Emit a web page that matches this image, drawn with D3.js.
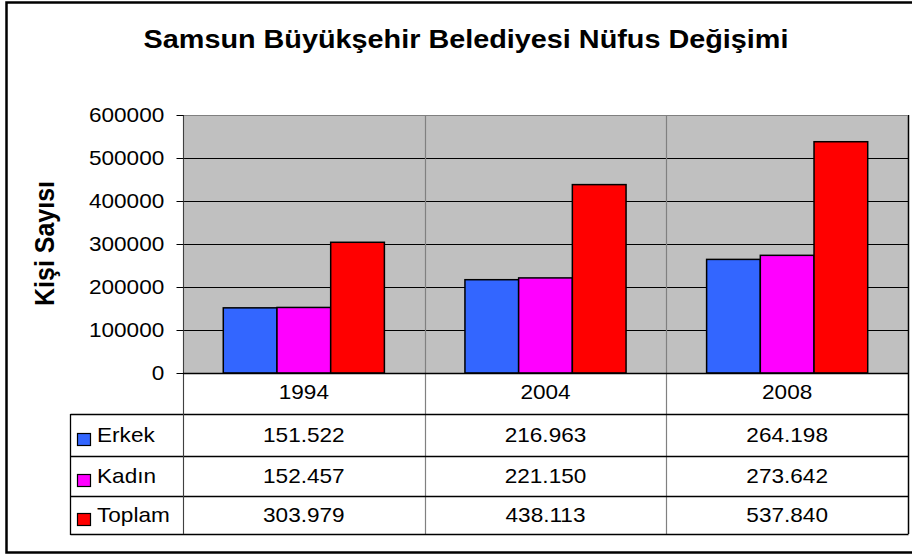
<!DOCTYPE html>
<html>
<head>
  <meta charset="utf-8">
  <title>Samsun Nüfus</title>
  <style>
    body { margin: 0; background: #fff; }
    text { font-family: "Liberation Sans", Arial, sans-serif; fill: #000; }
  </style>
</head>
<body>
  <div id="chart"></div>

  <script src="https://cdn.jsdelivr.net/npm/d3@7"></script>
  <script>

    // data
    let years = ['1994', '2004', '2008'];
    let seriesNames = ['Erkek', 'Kadın', 'Toplam'];
    let erkek = [151522, 216963, 264198];
    let kadin = [152457, 221150, 273642];
    let toplam = [303979, 438113, 537840];
    let yTicks = [0, 100000, 200000, 300000, 400000, 500000, 600000];
    let colors = ['#3366ff', '#ff00ff', '#ff0000'];

    let seriesValues = [erkek, kadin, toplam];

    // the original text looks a little wide, stretch it horizontally
    const SX = 1.13;
    function translate(x, y) {
      return 'translate(' + x + ',' + y + ')';
    }
    function stretch(x, y) {
      return translate(x, y) + ' scale(' + SX + ',1)';
    }

    let svgWidth = 912;
    let svgHeight = 556;
    let plot = {left: 183, right: 908, top: 115, bottom: 373};
    let tableLeft = 70.5;
    let rowLines = [373, 414, 456, 496, 534]; // category row + 3 series rows

    let svg = d3.select('#chart')
      .append('svg')
        .attr('width', svgWidth)
        .attr('height', svgHeight);

    // outer frame (right side runs off the picture)
    svg.append('rect')
      .attr('x', 6.5).attr('y', 2.5)
      .attr('width', 920).attr('height', 550)
      .attr('fill', 'none')
      .attr('stroke', '#000')
      .attr('stroke-width', 2.5);

    // title
    svg.append('text')
      .attr('transform', stretch(466, 47.5))
      .attr('text-anchor', 'middle')
      .style('font-size', '25.5px')
      .style('font-weight', 'bold')
      .text('Samsun Büyükşehir Belediyesi Nüfus Değişimi');

    // scales
    let x = d3.scaleBand()
      .domain(years)
      .range([plot.left, plot.right]);

    let barW = x.bandwidth() / 4.5; // gap width 150%
    let x1 = d3.scaleBand()
      .domain(seriesNames)
      .range([barW * 0.75, x.bandwidth() - barW * 0.75]);

    let y = d3.scaleLinear()
      .domain([0, 600000])
      .range([plot.bottom, plot.top]);

    // plot background
    svg.append('rect')
      .attr('x', plot.left).attr('y', plot.top)
      .attr('width', plot.right - plot.left)
      .attr('height', plot.bottom - plot.top)
      .attr('fill', '#c0c0c0');

    // gridlines
    svg.append('g')
      .selectAll('line')
      .data(yTicks.filter(d => d > 0))
      .enter()
      .append('line')
        .attr('x1', plot.left).attr('x2', plot.right)
        .attr('y1', d => Math.round(y(d)) + 0.5)
        .attr('y2', d => Math.round(y(d)) + 0.5)
        .attr('stroke', '#000');

    // bars
    let groups = svg.append('g')
      .selectAll('g')
      .data(years)
      .enter()
      .append('g')
        .attr('transform', d => translate(x(d), 0));

    groups.selectAll('rect')
      .data((d, i) => seriesNames.map((s, j) => ({s: s, j: j, v: seriesValues[j][i]})))
      .enter()
      .append('rect')
        .attr('x', d => x1(d.s))
        .attr('width', x1.bandwidth())
        .attr('y', d => y(d.v))
        .attr('height', d => y(0) - y(d.v))
        .attr('fill', d => colors[d.j])
        .attr('stroke', '#000')
        .attr('stroke-width', 1.5);

    // table: vertical dividers (grey) through plot and table
    let dividers = years.map(d => x(d)).concat([plot.right]);
    svg.append('g')
      .selectAll('line')
      .data(dividers)
      .enter()
      .append('line')
        .attr('x1', d => Math.round(d) + 0.5)
        .attr('x2', d => Math.round(d) + 0.5)
        .attr('y1', plot.top)
        .attr('y2', rowLines[rowLines.length - 1])
        .attr('stroke', (d, i) => i === dividers.length - 1 ? '#000' : '#808080')
        .attr('stroke-width', (d, i) => i === dividers.length - 1 ? 1.5 : 1.2);

    // plot top border
    svg.append('line')
      .attr('x1', plot.left).attr('x2', plot.right)
      .attr('y1', plot.top + 0.5).attr('y2', plot.top + 0.5)
      .attr('stroke', '#808080');

    // table horizontal lines
    svg.append('g')
      .selectAll('line')
      .data(rowLines.slice(1))
      .enter()
      .append('line')
        .attr('x1', tableLeft).attr('x2', plot.right + 0.5)
        .attr('y1', d => d + 0.5).attr('y2', d => d + 0.5)
        .attr('stroke', '#000')
        .attr('stroke-width', 1.3);

    // table left border
    svg.append('line')
      .attr('x1', tableLeft).attr('x2', tableLeft)
      .attr('y1', rowLines[1]).attr('y2', rowLines[4] + 1)
      .attr('stroke', '#000')
      .attr('stroke-width', 1.3);

    // y axis
    let yAxis = d3.axisLeft(y)
      .tickValues(yTicks)
      .tickSize(7)
      .tickPadding(10)
      .tickFormat(d3.format('d'));

    let yg = svg.append('g')
      .attr('transform', translate(plot.left + 0.5, 0))
      .call(yAxis);
    yg.select('.domain')
      .attr('d', 'M0,' + plot.top + 'V' + rowLines[4])
      .attr('stroke', '#404040');
    yg.selectAll('.tick line').attr('stroke', '#000');
    yg.selectAll('.tick text')
      .attr('x', null)
      .attr('transform', 'scale(' + SX + ',1) translate(-17,0)')
      .style('font-family', '"Liberation Sans", Arial, sans-serif')
      .style('font-size', '20px')
      .attr('fill', '#000');

    // x axis line at 0
    svg.append('line')
      .attr('x1', plot.left).attr('x2', plot.right)
      .attr('y1', plot.bottom + 0.5).attr('y2', plot.bottom + 0.5)
      .attr('stroke', '#000')
      .attr('stroke-width', 1.3);

    // y axis title
    svg.append('text')
      .attr('transform', stretch(54, 243.5) + ' rotate(-90)')
      .attr('text-anchor', 'middle')
      .style('font-size', '25px')
      .style('font-weight', 'bold')
      .text('Kişi Sayısı');

    // category row
    let rowMid = i => (rowLines[i] + rowLines[i + 1]) / 2;
    svg.append('g')
      .selectAll('text')
      .data(years)
      .enter()
      .append('text')
        .attr('transform', d => stretch(x(d) + x.bandwidth() / 2, rowMid(0) + 5))
        .attr('text-anchor', 'middle')
        .style('font-size', '20px')
        .text(d => d);

    // value rows
    let trFormat = d3.formatLocale({decimal: ',', thousands: '.', grouping: [3], currency: ['', '']}).format(',d');

    seriesNames.forEach(function (s, j) {
      let mid = rowMid(j + 1);

      svg.append('rect')
        .attr('x', 77.5).attr('y', mid - 1.5)
        .attr('width', 13).attr('height', 12)
        .attr('fill', colors[j])
        .attr('stroke', '#000')
        .attr('stroke-width', 1.2);

      svg.append('text')
        .attr('transform', stretch(97, mid + 7))
        .style('font-size', '20px')
        .text(s);

      svg.append('g')
        .selectAll('text')
        .data(years)
        .enter()
        .append('text')
          .attr('transform', (d, i) => stretch(x(d) + x.bandwidth() / 2, mid + 7))
          .attr('text-anchor', 'middle')
          .style('font-size', '20px')
          .text((d, i) => trFormat(seriesValues[j][i]));
    });

  </script>
</body>
</html>
